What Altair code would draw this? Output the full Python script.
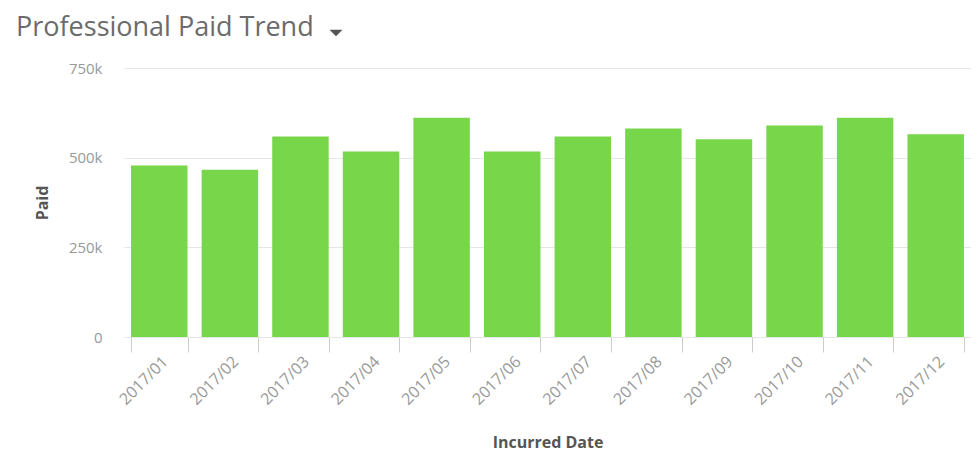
import altair as alt
import pandas as pd

months = ["2017/01", "2017/02", "2017/03", "2017/04", "2017/05", "2017/06",
          "2017/07", "2017/08", "2017/09", "2017/10", "2017/11", "2017/12"]
paid = [478000, 466000, 559000, 517000, 611000, 517000,
        559000, 581000, 551000, 590000, 611000, 565000]

df = pd.DataFrame({"month": months, "paid": paid})

FONT = "Open Sans"

bars = alt.Chart(df).mark_bar(color="#78D64B").encode(
    x=alt.X("month:N", title="Incurred Date", sort=months,
            scale=alt.Scale(paddingInner=0.2, paddingOuter=0.1),
            axis=alt.Axis(labelAngle=-45, labelAlign="right", labelBaseline="top",
                          labelPadding=1, tickSize=15, tickColor="#cccccc",
                          tickBand="extent", domain=False, grid=False,
                          labelColor="#999999", labelFontSize=16, labelFont=FONT,
                          titleFont=FONT, titleFontSize=16, titleFontWeight="bold",
                          titleColor="#555555", titlePadding=27)),
    y=alt.Y("paid:Q", title="Paid",
            scale=alt.Scale(domain=[0, 750000], nice=False),
            axis=alt.Axis(values=[0, 250000, 500000, 750000], labelExpr="datum.value == 0 ? '0' : format(datum.value / 1000, 'd') + 'k'",
                          ticks=False, domain=False, gridColor="#e6e6e6",
                          labelPadding=22, labelColor="#999999", labelFontSize=15,
                          labelFont=FONT, titleFont=FONT, titleFontSize=16,
                          titleFontWeight="bold", titleColor="#555555",
                          titlePadding=18)),
)

caret = alt.Chart(pd.DataFrame({"c": [1]})).mark_point(
    shape="M-1,-0.5L1,-0.5L0,0.5Z", filled=True, color="#555555", size=169, opacity=1
).encode(x=alt.value(212), y=alt.value(-35))

chart = alt.layer(bars, caret).properties(
    width=847, height=269,
    title=alt.TitleParams("Professional Paid Trend", anchor="start", frame="group",
                          dx=-108, fontSize=27, font=FONT, fontWeight="normal",
                          color="#6b6b6b", offset=-12),
    autosize=alt.AutoSizeParams(type="none"),
    padding={"left": 116, "top": 60, "right": 0, "bottom": 116},
).configure_view(stroke=None)

chart.save("out.html", embed_options={"renderer": "svg", "actions": False})
